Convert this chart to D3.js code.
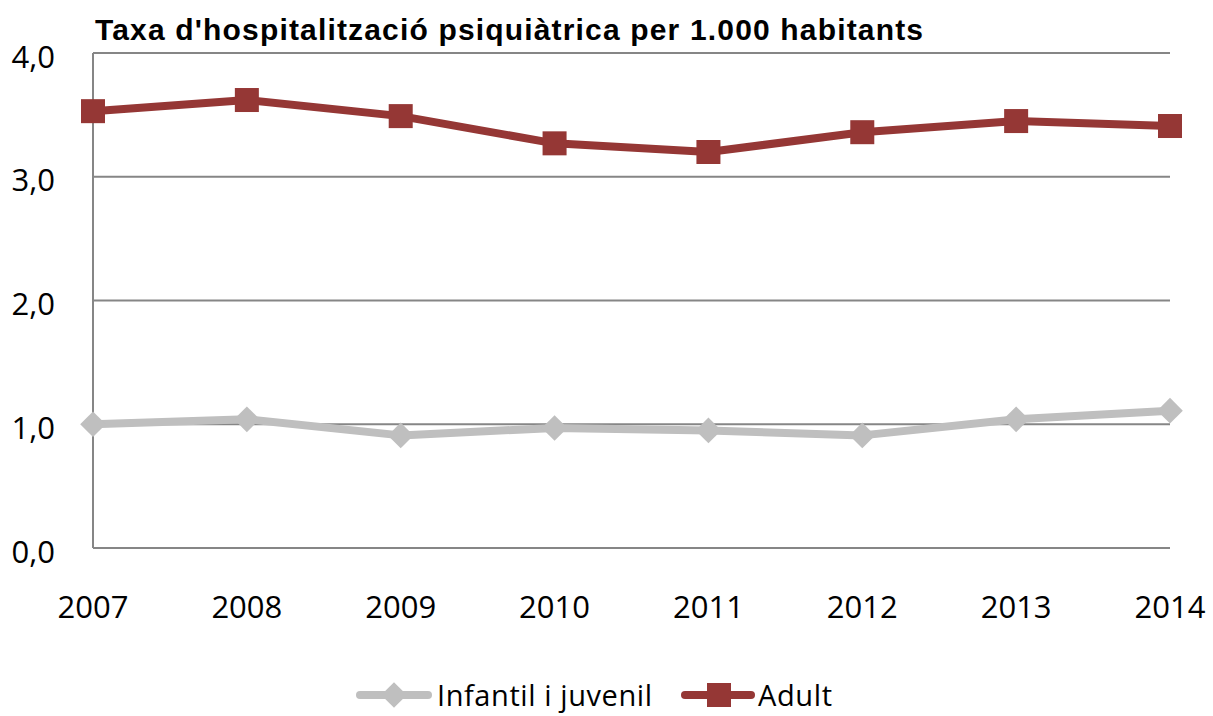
<!DOCTYPE html>
<html>
<head>
<meta charset="utf-8">
<script src="https://cdn.jsdelivr.net/npm/d3@7"></script>
<style>
  body { margin: 0; background: #fff; }
  svg text { font-family: "Open Sans", sans-serif; fill: #000; }
</style>
</head>
<body>
<div id="chart"></div>
<script>
// --- data
const years = ["2007", "2008", "2009", "2010", "2011", "2012", "2013", "2014"];
const infantil = [1.00, 1.04, 0.91, 0.97, 0.95, 0.91, 1.04, 1.11];
const adult = [3.53, 3.62, 3.49, 3.27, 3.20, 3.36, 3.45, 3.41];
const yTicks = [0, 1, 2, 3, 4];
const seriesNames = ["Infantil i juvenil", "Adult"];

const width = 1213, height = 716;
const plotLeft = 93, plotRight = 1170, plotTop = 53, plotBottom = 548;

const svg = d3.select("#chart").append("svg")
    .attr("width", width)
    .attr("height", height);

const x = d3.scalePoint().domain(years).range([plotLeft, plotRight]);
const y = d3.scaleLinear().domain([0, 4]).range([plotBottom, plotTop]);

// gridlines
svg.append("g")
    .selectAll("line")
    .data(yTicks.filter(d => d > 0))
    .enter().append("line")
    .attr("x1", plotLeft).attr("x2", plotRight)
    .attr("y1", d => y(d)).attr("y2", d => y(d))
    .attr("stroke", "#868686")
    .attr("stroke-width", 2);

// axes lines
svg.append("line")
    .attr("x1", plotLeft).attr("x2", plotLeft)
    .attr("y1", plotTop).attr("y2", plotBottom)
    .attr("stroke", "#868686").attr("stroke-width", 2);
svg.append("line")
    .attr("x1", plotLeft).attr("x2", plotRight)
    .attr("y1", plotBottom).attr("y2", plotBottom)
    .attr("stroke", "#868686").attr("stroke-width", 2);

// y tick labels
svg.append("g")
    .selectAll("text")
    .data(yTicks)
    .enter().append("text")
    .attr("x", 55)
    .attr("y", d => y(d))
    .attr("dy", "0.47em")
    .attr("text-anchor", "end")
    .style("font-size", "31px")
    .text(d => d3.format(".1f")(d).replace(".", ","));

// x tick labels
svg.append("g")
    .selectAll("text")
    .data(years)
    .enter().append("text")
    .attr("x", d => x(d))
    .attr("y", 618)
    .attr("text-anchor", "middle")
    .style("font-size", "31px")
    .text(d => d);

// title
svg.append("text")
    .attr("x", 95)
    .attr("y", 40)
    .attr("textLength", 828)
    .attr("lengthAdjust", "spacing")
    .style("font-family", "'Liberation Sans', Arial, sans-serif")
    .style("font-weight", "bold")
    .style("font-size", "30px")
    .text("Taxa d'hospitalització psiquiàtrica per 1.000 habitants");

const line = d3.line()
    .x((d, i) => x(years[i]))
    .y(d => y(d));

const grey = "#BFBFBF", red = "#953735";
const diamond = d3.symbol().type(d3.symbolDiamond2).size(420);

// infantil series
svg.append("path")
    .datum(infantil)
    .attr("d", line)
    .attr("fill", "none")
    .attr("stroke", grey)
    .attr("stroke-width", 8)
    .attr("stroke-linejoin", "round");
svg.append("g")
    .selectAll("path")
    .data(infantil)
    .enter().append("path")
    .attr("d", diamond)
    .attr("transform", (d, i) => "translate(" + x(years[i]) + "," + y(d) + ")")
    .attr("fill", grey);

// adult series
svg.append("path")
    .datum(adult)
    .attr("d", line)
    .attr("fill", "none")
    .attr("stroke", red)
    .attr("stroke-width", 8)
    .attr("stroke-linejoin", "round");
svg.append("g")
    .selectAll("rect")
    .data(adult)
    .enter().append("rect")
    .attr("x", (d, i) => x(years[i]) - 12)
    .attr("y", d => y(d) - 12)
    .attr("width", 24)
    .attr("height", 24)
    .attr("fill", red);

// legend
const legend = svg.append("g");
const ly = 695;
legend.append("line")
    .attr("x1", 360).attr("x2", 428)
    .attr("y1", ly).attr("y2", ly)
    .attr("stroke", grey).attr("stroke-width", 8).attr("stroke-linecap", "round");
legend.append("path")
    .attr("d", diamond)
    .attr("transform", "translate(394," + ly + ")")
    .attr("fill", grey);
legend.append("text")
    .attr("x", 437).attr("y", ly)
    .attr("dy", "0.38em")
    .attr("textLength", 215)
    .attr("lengthAdjust", "spacing")
    .style("font-size", "29px")
    .text(seriesNames[0]);

legend.append("line")
    .attr("x1", 685).attr("x2", 751)
    .attr("y1", ly).attr("y2", ly)
    .attr("stroke", red).attr("stroke-width", 8).attr("stroke-linecap", "round");
legend.append("rect")
    .attr("x", 707).attr("y", ly - 12)
    .attr("width", 24).attr("height", 24)
    .attr("fill", red);
legend.append("text")
    .attr("x", 758).attr("y", ly)
    .attr("dy", "0.38em")
    .attr("textLength", 74)
    .attr("lengthAdjust", "spacing")
    .style("font-size", "29px")
    .text(seriesNames[1]);
</script>
</body>
</html>
